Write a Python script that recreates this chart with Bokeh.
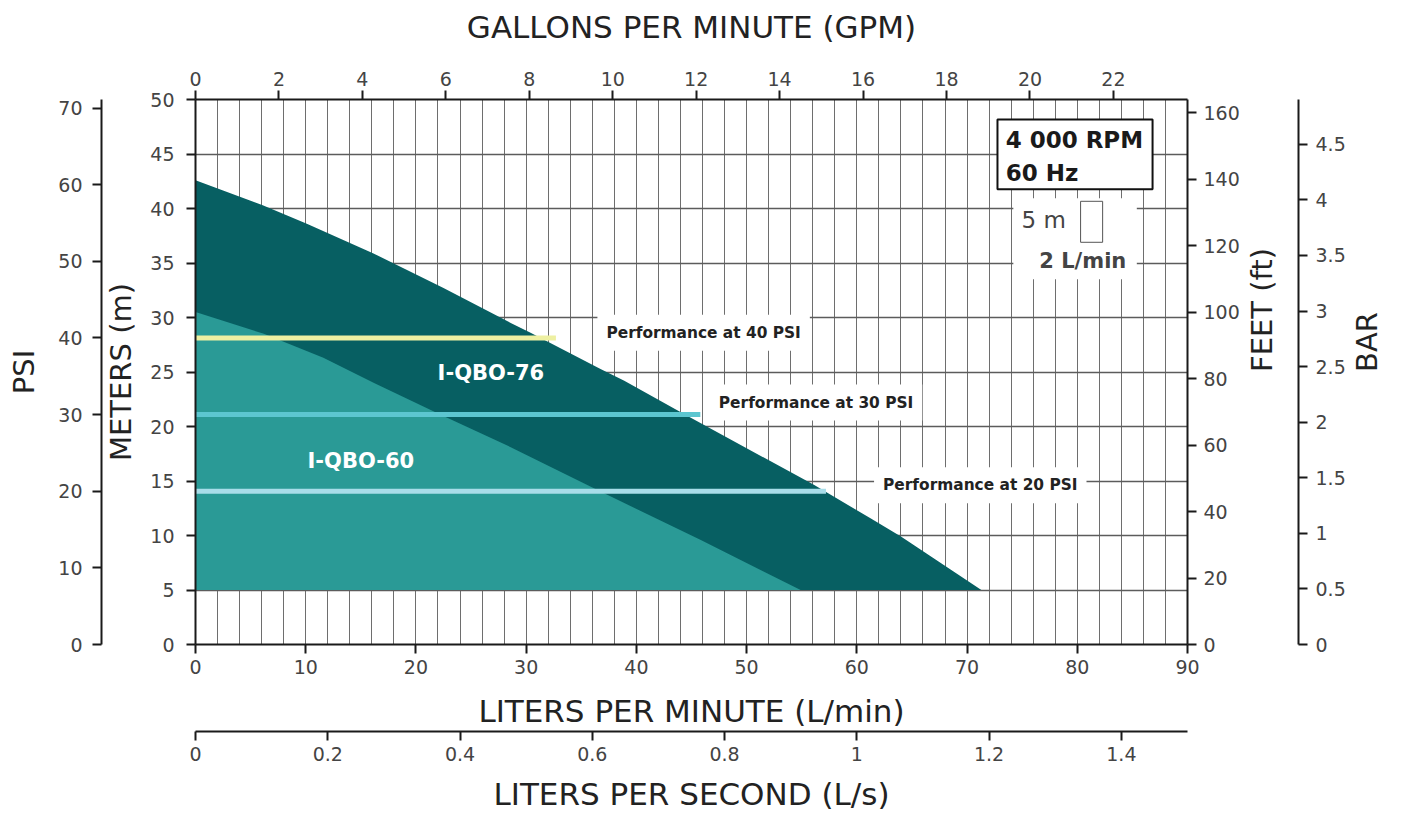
import math
from bokeh.plotting import figure
from bokeh.models import (Range1d, LinearAxis, FixedTicker, NumeralTickFormatter,
                          SingleIntervalTicker, Label, BoxAnnotation)
from bokeh.embed import file_html
from bokeh.resources import INLINE

# ---------------- data ----------------
lpm_76 = [0, 6.1, 10.1, 16.1, 22.5, 28.6, 30.4, 36.7, 38.9, 44.4, 56.1, 61.2, 64.0, 71.3]
m_76 = [42.6, 40.3, 38.6, 35.9, 32.7, 29.5, 28.6, 25.3, 24.2, 21.1, 14.65, 11.6, 9.9, 5.0]

lpm_60 = [0, 6.2, 11.6, 16.2, 22.2, 28.6, 36.1, 45.8, 54.9]
m_60 = [30.5, 28.5, 26.3, 24.0, 21.1, 18.1, 14.35, 9.6, 5.0]

base_m = 5

psi_levels = [40, 30, 20]
psi_line_end_lpm = [32.7, 45.8, 57.2]
psi_labels = ["Performance at 40 PSI", "Performance at 30 PSI", "Performance at 20 PSI"]
psi_label_x = [46.1, 56.3, 71.2]
psi_label_y = [28.6, 22.2, 14.6]
psi_line_colors = ["#EEF0A2", "#5CC6D0", "#A8DDE9"]

model_names = ["I-QBO-76", "I-QBO-60"]
model_label_x = [26.8, 15.0]
model_label_y = [24.9, 16.8]

lpm_ticks = list(range(0, 91, 10))
m_ticks = list(range(0, 51, 5))
psi_ticks = list(range(0, 71, 10))
ft_ticks = list(range(0, 161, 20))
bar_ticks = [0, 0.5, 1, 1.5, 2, 2.5, 3, 3.5, 4, 4.5]
gpm_ticks = list(range(0, 23, 2))
lps_ticks = [0, 0.2, 0.4, 0.6, 0.8, 1.0, 1.2, 1.4]

M_TO_PSI = 1.42233
M_TO_FT = 3.28084
M_TO_BAR = 0.0980665
LPM_PER_GPM = 3.78541

X_MAX = 90
Y_MAX = 50

DARK = "#075F62"
LIGHT = "#2A9A96"

# ---------------- figure ----------------
W, H = 1403, 814
p = figure(width=W, height=H,
           x_range=Range1d(0, X_MAX), y_range=Range1d(0, Y_MAX),
           output_backend="svg", toolbar_location=None,
           min_border_left=195, min_border_right=W - 1187,
           min_border_top=99, min_border_bottom=H - 645)
p.outline_line_color = None
p.background_fill_color = "white"
p.border_fill_color = "white"

p.extra_y_ranges = {
    "psi": Range1d(0, Y_MAX * M_TO_PSI),
    "ft": Range1d(0, Y_MAX * M_TO_FT),
    "bar": Range1d(0, Y_MAX * M_TO_BAR),
}
p.extra_x_ranges = {
    "gpm": Range1d(0, X_MAX / LPM_PER_GPM),
    "lps": Range1d(0, X_MAX / 60.0),
}

TICK_FONT = "DejaVu Sans"
LABEL_FONT = "DejaVu Sans"


def style(ax, ticks, label, label_standoff, axis_label_standoff, label_size="29px"):
    ax.ticker = FixedTicker(ticks=ticks)
    ax.formatter = NumeralTickFormatter(format="0.[0]")
    ax.axis_label = label
    ax.major_tick_in = 0
    ax.major_tick_out = 9
    ax.minor_tick_in = 0
    ax.minor_tick_out = 0
    ax.axis_line_width = 2
    ax.axis_line_color = "#1a1a1a"
    ax.major_tick_line_width = 2
    ax.major_tick_line_color = "#1a1a1a"
    ax.major_label_text_font = TICK_FONT
    ax.major_label_text_font_size = "19px"
    ax.major_label_text_color = "#444444"
    ax.major_label_standoff = label_standoff
    ax.axis_label_text_font = LABEL_FONT
    ax.axis_label_text_font_size = label_size
    ax.axis_label_text_font_style = "normal"
    ax.axis_label_text_color = "#222222"
    ax.axis_label_standoff = axis_label_standoff


# primary axes
style(p.xaxis[0], lpm_ticks, "LITERS PER MINUTE (L/min)", 6, 16, "31px")
style(p.yaxis[0], m_ticks, "METERS (m)", 12, 9)

# secondary axes
psi_axis = LinearAxis(y_range_name="psi")
style(psi_axis, psi_ticks, "PSI", 10, 14)
p.add_layout(psi_axis, "left")

ft_axis = LinearAxis(y_range_name="ft")
style(ft_axis, ft_ticks, "FEET (ft)", 7, 19)
ft_axis.axis_label_orientation = math.pi / 2
p.add_layout(ft_axis, "right")

bar_axis = LinearAxis(y_range_name="bar")
style(bar_axis, bar_ticks, "BAR", 8, 18)
bar_axis.axis_label_orientation = math.pi / 2
p.add_layout(bar_axis, "right")

gpm_axis = LinearAxis(x_range_name="gpm")
style(gpm_axis, gpm_ticks, "GALLONS PER MINUTE (GPM)", 5, 24, "31px")
p.add_layout(gpm_axis, "above")

lps_axis = LinearAxis(x_range_name="lps")
style(lps_axis, lps_ticks, "LITERS PER SECOND (L/s)", 6, 12, "31px")
p.add_layout(lps_axis, "below")

# grids
p.xgrid.ticker = SingleIntervalTicker(interval=2)
p.xgrid.grid_line_color = "#6e6e6e"
p.xgrid.grid_line_width = 1
p.ygrid.ticker = FixedTicker(ticks=m_ticks)
p.ygrid.grid_line_color = "#5c5c5c"
p.ygrid.grid_line_width = 1.5

# ---------------- areas ----------------
p.varea(x=lpm_76, y1=[base_m] * len(lpm_76), y2=m_76, fill_color=DARK, fill_alpha=1)
p.varea(x=lpm_60, y1=[base_m] * len(lpm_60), y2=m_60, fill_color=LIGHT, fill_alpha=1)

# ---------------- pressure lines ----------------
psi_m = [v / M_TO_PSI for v in psi_levels]
p.segment(x0=[0] * len(psi_m), y0=psi_m, x1=psi_line_end_lpm, y1=psi_m,
          line_color=psi_line_colors, line_width=5)

for txt, x, y in zip(psi_labels, psi_label_x, psi_label_y):
    p.add_layout(Label(x=x, y=y, text=txt, text_align="center", text_baseline="middle",
                       text_font="DejaVu Sans", text_font_style="bold", text_font_size="15.4px",
                       text_color="#222222", background_fill_color="white",
                       background_fill_alpha=1, padding=9))

for txt, x, y in zip(model_names, model_label_x, model_label_y):
    p.add_layout(Label(x=x, y=y, text=txt, text_align="center", text_baseline="middle",
                       text_font="DejaVu Sans", text_font_style="bold", text_font_size="21px",
                       text_color="white"))

# ---------------- info box ----------------
p.add_layout(BoxAnnotation(left=72.76, right=86.83, top=48.17, bottom=41.76,
                           fill_color="white", fill_alpha=1,
                           line_color="#111111", line_alpha=1, line_width=2))
p.add_layout(Label(x=73.5, y=46.25, text="4 000 RPM", text_align="left", text_baseline="middle",
                   text_font="DejaVu Sans", text_font_style="bold", text_font_size="23px",
                   text_color="#1a1a1a"))
p.add_layout(Label(x=73.5, y=43.22, text="60 Hz", text_align="left", text_baseline="middle",
                   text_font="DejaVu Sans", text_font_style="bold", text_font_size="23px",
                   text_color="#1a1a1a"))

# grid scale legend
p.add_layout(BoxAnnotation(left=74.2, right=85.4, top=40.93, bottom=33.5,
                           fill_color="white", fill_alpha=1, line_color=None))
p.add_layout(BoxAnnotation(left=80.3, right=82.3, top=40.66, bottom=36.9,
                           fill_color="white", fill_alpha=1, line_color="#555555",
                           line_alpha=1, line_width=1))
p.add_layout(Label(x=74.95, y=38.95, text="5 m", text_align="left", text_baseline="middle",
                   text_font="DejaVu Sans", text_font_size="23px", text_color="#444444"))
p.add_layout(Label(x=80.5, y=35.16, text="2 L/min", text_align="center", text_baseline="middle",
                   text_font="DejaVu Sans", text_font_style="bold", text_font_size="21px",
                   text_color="#444444"))

open("out.html", "w").write(file_html(p, INLINE))
